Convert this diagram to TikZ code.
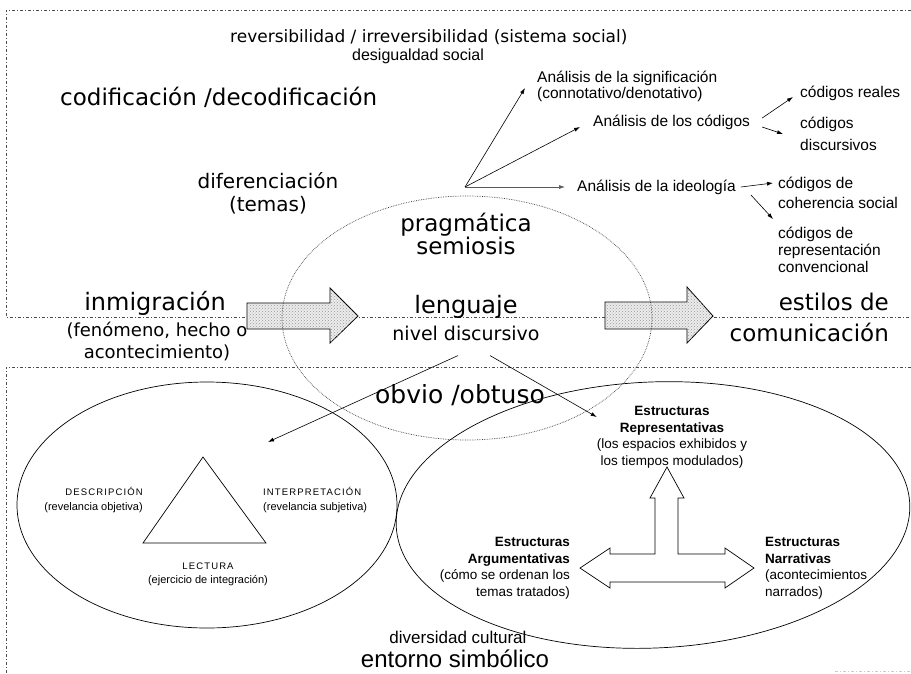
\documentclass[tikz,border=0pt]{standalone}
\usepackage{fontspec}
\setmainfont{DejaVu Sans}
\newfontfamily\ari{Liberation Sans}
\newfontfamily\arisp[LetterSpace=12]{Liberation Sans}
\newcommand\fsz[2]{\fontsize{#1}{#2}\selectfont}
\usetikzlibrary{arrows.meta,patterns}
\tikzset{
  frame/.style={gray!60!black, line width=0.6pt, dash pattern=on 3pt off 2pt on 1pt off 2pt},
  arr/.style={-{Latex[length=6pt,width=4pt]}, line width=0.6pt},
  fat/.style={draw, line width=0.8pt, fill=gray!15, postaction={pattern=crosshatch dots, pattern color=gray!80}},
  txt/.style={inner sep=0pt},
  small/.style={txt, font=\ari\fsz{15.5}{16}},
  struct/.style={txt, font=\ari\fsz{13.5}{16.5}},
}

\begin{document}
\begin{tikzpicture}[x=1pt,y=-1pt]
\useasboundingbox (0,0) rectangle (911,673);
% frames
\draw[frame] (911,10) -- (6,10) -- (6,317) -- (911,317);
\draw[frame] (911,367) -- (6,367) -- (6,673);
\draw[frame, gray!40] (835,671) -- (911,671);

% upper part
\node[txt, anchor=west, font=\fsz{17}{20}] (rev) at (230,37) {reversibilidad / irreversibilidad (sistema social)};
\node[txt, anchor=west, font=\ari\fsz{16}{18}] (desig) at (352,56) {desigualdad social};
\node[txt, anchor=west, font=\fsz{23}{26}] (cod) at (60,97) {codificación /decodificación};
\node[txt, align=center, font=\fsz{20}{23}] (dif) at (268,193) {diferenciación\\(temas)};
\node[txt, align=center, font=\fsz{23}{23}] (prag) at (466,234) {pragmática\\semiosis};

\coordinate (src) at (465,187);
\node[small, anchor=west, align=left] (sig) at (537,86) {Análisis de la significación\\(connotativo/denotativo)};
\node[small, anchor=west] (cods) at (593,122) {Análisis de los códigos};
\node[small, anchor=west] (ideo) at (577,187) {Análisis de la ideología};
\node[small, anchor=west] (real) at (800,93) {códigos reales};
\node[small, anchor=west, align=left, font=\ari\fsz{15.5}{22}] (disc) at (800,134) {códigos\\discursivos};
\node[small, anchor=west, align=left, font=\ari\fsz{15.5}{20}] (coh) at (778,193) {códigos de\\coherencia social};
\node[small, anchor=west, align=left, font=\ari\fsz{15.5}{17}] (conv) at (778,250) {códigos de\\representación\\convencional};

\draw[arr] (src) -- ([xshift=-12pt,yshift=-2pt]sig.west);
\draw[arr] (src) -- ([xshift=-13pt,yshift=-5pt]cods.west);
\draw[arr, gray!70!black] (src) -- ([xshift=-12pt]ideo.west);
\draw[arr] ([xshift=12pt,yshift=4pt]cods.east) -- ([xshift=-7pt,yshift=-4pt]real.west);
\draw[arr] ([xshift=12pt,yshift=-5pt]cods.east) -- ([xshift=-17pt]disc.west);
\draw[arr] ([xshift=5pt]ideo.east) -- ([xshift=-5pt,yshift=10pt]coh.west);
\draw[arr] ([xshift=15pt,yshift=-8pt]ideo.east) -- ([xshift=-5pt,yshift=8pt]conv.north west);

% middle band
\node[txt, font=\fsz{24}{26}] (inm) at (155,303) {inmigración};
\node[txt, align=center, font=\fsz{18}{22}] (fen) at (157,341) {(fenómeno, hecho o\\acontecimiento)};
\draw[fat] (247,303) -- (330,303) -- (330,288) -- (358,316) -- (330,343) -- (330,329) -- (247,329) -- cycle;
\draw[fat] (605,302) -- (687,302) -- (687,287) -- (713,316) -- (687,343) -- (687,329) -- (605,329) -- cycle;
\node[txt, font=\fsz{24}{26}] (leng) at (466,307) {lenguaje};
\node[txt, font=\fsz{19}{22}] (niv) at (466,333) {nivel discursivo};
\node[txt, anchor=east, align=right, font=\fsz{23}{31}] (est) at (889,317) {estilos de\\comunicación};
\node[txt, font=\fsz{25}{27}] (obv) at (460,395) {obvio /obtuso};

% ellipses
\draw[gray!50!black, densely dotted, line width=0.7pt] (467,318) ellipse [x radius=185pt, y radius=122pt];
\draw[line width=0.7pt] (207,505) ellipse [x radius=190pt, y radius=123pt];
\draw[line width=0.7pt, rotate around={2.5:(653,515)}] (653,515) ellipse [x radius=257pt, y radius=133pt];

% left ellipse
\draw[line width=0.7pt] (203,457) -- (266,543) -- (143,543) -- cycle;
\node[txt, anchor=east, align=right, font=\ari\fsz{11}{15}] (descr) at (143,500) {{\arisp\fsz{9.5}{15}DESCRIPCIÓN}\\(revelancia objetiva)};
\node[txt, anchor=west, align=left, font=\ari\fsz{11}{15}] (interp) at (263,500) {{\arisp\fsz{9.5}{15}INTERPRETACIÓN}\\(revelancia subjetiva)};
\node[txt, align=center, font=\ari\fsz{11}{14}] (lect) at (208,574) {{\arisp\fsz{9.5}{14}LECTURA}\\(ejercicio de integración)};
\coordinate (lin) at (268,442);

% right ellipse
\node[struct, align=center] (repr) at (672,437) {\textbf{Estructuras}\\\textbf{Representativas}\\(los espacios exhibidos y\\los tiempos modulados)};
\node[struct, anchor=east, align=right] (argu) at (570,568) {\textbf{Estructuras}\\\textbf{Argumentativas}\\(cómo se ordenan los\\temas tratados)};
\node[struct, anchor=west, align=left] (narr) at (765,568) {\textbf{Estructuras}\\\textbf{Narrativas}\\(acontecimientos\\narrados)};
\draw[line width=0.7pt, fill=white] (580,568) -- (610,548) -- (610,554) -- (655,554) -- (655,498) -- (650,498) -- (667,467)
  -- (684,498) -- (678,498) -- (678,554) -- (725,554) -- (725,548) -- (754,568) -- (725,588) -- (725,582)
  -- (610,582) -- (610,588) -- cycle;

\draw[arr] ([xshift=-8pt,yshift=-15pt]niv.south) -- (lin);
\draw[arr] ([xshift=24pt,yshift=-15pt]niv.south) -- ([yshift=-11pt]repr.north west);

% bottom
\node[txt, font=\ari\fsz{17}{19}] (divc) at (458,637) {diversidad cultural};
\node[txt, font=\ari\fsz{24}{26}] (ent) at (455,659) {entorno simbólico};
\end{tikzpicture}
\end{document}
